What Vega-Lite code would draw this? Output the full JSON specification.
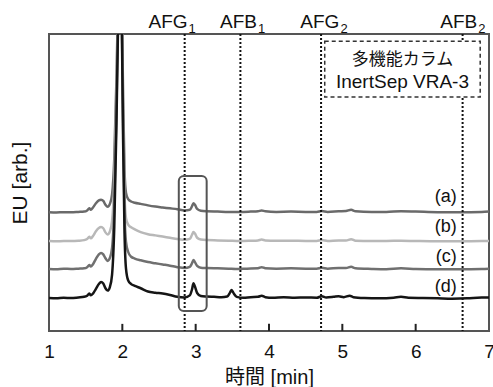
{
  "$schema": "https://vega.github.io/schema/vega-lite/v6.json",
  "width": 440,
  "height": 297,
  "autosize": "none",
  "padding": {"left": 49, "top": 34, "right": 4, "bottom": 56},
  "background": "white",
  "config": {
    "view": {"stroke": "#555", "strokeWidth": 2},
    "font": "Liberation Sans, Noto Sans CJK JP"
  },
  "datasets": {
    "traces": [
      {"trace": "a", "t": 1.00, "eu": 40.0}, {"trace": "a", "t": 1.10, "eu": 39.9}, {"trace": "a", "t": 1.20, "eu": 40.0},
      {"trace": "a", "t": 1.30, "eu": 40.0}, {"trace": "a", "t": 1.40, "eu": 40.1}, {"trace": "a", "t": 1.48, "eu": 40.2},
      {"trace": "a", "t": 1.52, "eu": 40.6}, {"trace": "a", "t": 1.55, "eu": 41.3}, {"trace": "a", "t": 1.57, "eu": 40.8},
      {"trace": "a", "t": 1.60, "eu": 41.6}, {"trace": "a", "t": 1.64, "eu": 43.0}, {"trace": "a", "t": 1.68, "eu": 44.0},
      {"trace": "a", "t": 1.71, "eu": 44.2}, {"trace": "a", "t": 1.74, "eu": 43.8}, {"trace": "a", "t": 1.77, "eu": 42.5},
      {"trace": "a", "t": 1.80, "eu": 41.8}, {"trace": "a", "t": 1.83, "eu": 42.8}, {"trace": "a", "t": 1.86, "eu": 46},
      {"trace": "a", "t": 1.89, "eu": 58}, {"trace": "a", "t": 1.92, "eu": 85}, {"trace": "a", "t": 1.95, "eu": 120},
      {"trace": "a", "t": 1.97, "eu": 130}, {"trace": "a", "t": 1.99, "eu": 115}, {"trace": "a", "t": 2.01, "eu": 80},
      {"trace": "a", "t": 2.03, "eu": 54}, {"trace": "a", "t": 2.05, "eu": 46.5}, {"trace": "a", "t": 2.08, "eu": 44.4},
      {"trace": "a", "t": 2.12, "eu": 43.6}, {"trace": "a", "t": 2.17, "eu": 43.2}, {"trace": "a", "t": 2.25, "eu": 42.8},
      {"trace": "a", "t": 2.35, "eu": 42.3}, {"trace": "a", "t": 2.45, "eu": 41.9}, {"trace": "a", "t": 2.55, "eu": 41.6},
      {"trace": "a", "t": 2.65, "eu": 41.3}, {"trace": "a", "t": 2.75, "eu": 41.0}, {"trace": "a", "t": 2.85, "eu": 40.6},
      {"trace": "a", "t": 2.92, "eu": 40.8}, {"trace": "a", "t": 2.95, "eu": 42.0}, {"trace": "a", "t": 2.97, "eu": 43.0},
      {"trace": "a", "t": 2.99, "eu": 42.5}, {"trace": "a", "t": 3.02, "eu": 41.1}, {"trace": "a", "t": 3.07, "eu": 40.5},
      {"trace": "a", "t": 3.15, "eu": 40.3}, {"trace": "a", "t": 3.30, "eu": 40.2}, {"trace": "a", "t": 3.45, "eu": 40.1},
      {"trace": "a", "t": 3.60, "eu": 40.1}, {"trace": "a", "t": 3.75, "eu": 40.2}, {"trace": "a", "t": 3.85, "eu": 40.3},
      {"trace": "a", "t": 3.90, "eu": 40.6}, {"trace": "a", "t": 3.95, "eu": 40.3}, {"trace": "a", "t": 4.10, "eu": 40.1},
      {"trace": "a", "t": 4.30, "eu": 40.2}, {"trace": "a", "t": 4.50, "eu": 40.1}, {"trace": "a", "t": 4.65, "eu": 40.1},
      {"trace": "a", "t": 4.72, "eu": 40.4}, {"trace": "a", "t": 4.80, "eu": 40.1}, {"trace": "a", "t": 4.95, "eu": 40.3},
      {"trace": "a", "t": 5.05, "eu": 40.4}, {"trace": "a", "t": 5.12, "eu": 40.8}, {"trace": "a", "t": 5.18, "eu": 40.3},
      {"trace": "a", "t": 5.40, "eu": 40.1}, {"trace": "a", "t": 5.60, "eu": 40.1}, {"trace": "a", "t": 5.80, "eu": 40.3},
      {"trace": "a", "t": 6.00, "eu": 40.2}, {"trace": "a", "t": 6.30, "eu": 40.0}, {"trace": "a", "t": 6.60, "eu": 40.0},
      {"trace": "a", "t": 6.90, "eu": 40.1}, {"trace": "a", "t": 7.00, "eu": 40.2},

      {"trace": "b", "t": 1.00, "eu": 30.3}, {"trace": "b", "t": 1.10, "eu": 30.2}, {"trace": "b", "t": 1.20, "eu": 30.3},
      {"trace": "b", "t": 1.30, "eu": 30.3}, {"trace": "b", "t": 1.40, "eu": 30.4}, {"trace": "b", "t": 1.48, "eu": 30.6},
      {"trace": "b", "t": 1.52, "eu": 31.0}, {"trace": "b", "t": 1.55, "eu": 31.7}, {"trace": "b", "t": 1.57, "eu": 31.2},
      {"trace": "b", "t": 1.60, "eu": 32.0}, {"trace": "b", "t": 1.64, "eu": 33.6}, {"trace": "b", "t": 1.68, "eu": 34.7},
      {"trace": "b", "t": 1.71, "eu": 35.0}, {"trace": "b", "t": 1.74, "eu": 34.6}, {"trace": "b", "t": 1.77, "eu": 33.2},
      {"trace": "b", "t": 1.80, "eu": 32.5}, {"trace": "b", "t": 1.83, "eu": 33.5}, {"trace": "b", "t": 1.86, "eu": 37},
      {"trace": "b", "t": 1.89, "eu": 50}, {"trace": "b", "t": 1.92, "eu": 80}, {"trace": "b", "t": 1.95, "eu": 118},
      {"trace": "b", "t": 1.97, "eu": 130}, {"trace": "b", "t": 1.99, "eu": 112}, {"trace": "b", "t": 2.01, "eu": 75},
      {"trace": "b", "t": 2.03, "eu": 46}, {"trace": "b", "t": 2.05, "eu": 38}, {"trace": "b", "t": 2.08, "eu": 35.8},
      {"trace": "b", "t": 2.12, "eu": 34.9}, {"trace": "b", "t": 2.17, "eu": 34.2}, {"trace": "b", "t": 2.25, "eu": 33.3},
      {"trace": "b", "t": 2.35, "eu": 32.6}, {"trace": "b", "t": 2.45, "eu": 32.2}, {"trace": "b", "t": 2.55, "eu": 31.8},
      {"trace": "b", "t": 2.65, "eu": 31.4}, {"trace": "b", "t": 2.75, "eu": 31.0}, {"trace": "b", "t": 2.85, "eu": 30.7},
      {"trace": "b", "t": 2.92, "eu": 31.0}, {"trace": "b", "t": 2.95, "eu": 32.4}, {"trace": "b", "t": 2.97, "eu": 33.3},
      {"trace": "b", "t": 2.99, "eu": 32.8}, {"trace": "b", "t": 3.02, "eu": 31.4}, {"trace": "b", "t": 3.07, "eu": 30.8},
      {"trace": "b", "t": 3.15, "eu": 30.6}, {"trace": "b", "t": 3.30, "eu": 30.5}, {"trace": "b", "t": 3.45, "eu": 30.4},
      {"trace": "b", "t": 3.60, "eu": 30.3}, {"trace": "b", "t": 3.75, "eu": 30.4}, {"trace": "b", "t": 3.85, "eu": 30.5},
      {"trace": "b", "t": 3.90, "eu": 30.8}, {"trace": "b", "t": 3.95, "eu": 30.5}, {"trace": "b", "t": 4.10, "eu": 30.4},
      {"trace": "b", "t": 4.30, "eu": 30.4}, {"trace": "b", "t": 4.50, "eu": 30.3}, {"trace": "b", "t": 4.65, "eu": 30.3},
      {"trace": "b", "t": 4.72, "eu": 30.6}, {"trace": "b", "t": 4.80, "eu": 30.3}, {"trace": "b", "t": 4.95, "eu": 30.5},
      {"trace": "b", "t": 5.05, "eu": 30.5}, {"trace": "b", "t": 5.12, "eu": 30.9}, {"trace": "b", "t": 5.18, "eu": 30.4},
      {"trace": "b", "t": 5.40, "eu": 30.3}, {"trace": "b", "t": 5.60, "eu": 30.3}, {"trace": "b", "t": 5.80, "eu": 30.4},
      {"trace": "b", "t": 6.00, "eu": 30.3}, {"trace": "b", "t": 6.30, "eu": 30.2}, {"trace": "b", "t": 6.60, "eu": 30.2},
      {"trace": "b", "t": 6.90, "eu": 30.3}, {"trace": "b", "t": 7.00, "eu": 30.3},

      {"trace": "c", "t": 1.00, "eu": 20.9}, {"trace": "c", "t": 1.10, "eu": 20.8}, {"trace": "c", "t": 1.20, "eu": 21.0},
      {"trace": "c", "t": 1.30, "eu": 20.9}, {"trace": "c", "t": 1.40, "eu": 21.0}, {"trace": "c", "t": 1.48, "eu": 21.1},
      {"trace": "c", "t": 1.52, "eu": 21.5}, {"trace": "c", "t": 1.55, "eu": 22.2}, {"trace": "c", "t": 1.57, "eu": 21.7},
      {"trace": "c", "t": 1.60, "eu": 22.5}, {"trace": "c", "t": 1.64, "eu": 24.3}, {"trace": "c", "t": 1.68, "eu": 25.8},
      {"trace": "c", "t": 1.71, "eu": 26.3}, {"trace": "c", "t": 1.74, "eu": 25.8}, {"trace": "c", "t": 1.77, "eu": 24.5},
      {"trace": "c", "t": 1.80, "eu": 23.6}, {"trace": "c", "t": 1.83, "eu": 24.6}, {"trace": "c", "t": 1.86, "eu": 28},
      {"trace": "c", "t": 1.89, "eu": 42}, {"trace": "c", "t": 1.92, "eu": 75}, {"trace": "c", "t": 1.95, "eu": 115},
      {"trace": "c", "t": 1.97, "eu": 130}, {"trace": "c", "t": 1.99, "eu": 112}, {"trace": "c", "t": 2.01, "eu": 70},
      {"trace": "c", "t": 2.03, "eu": 40}, {"trace": "c", "t": 2.05, "eu": 30}, {"trace": "c", "t": 2.08, "eu": 26.6},
      {"trace": "c", "t": 2.12, "eu": 25.0}, {"trace": "c", "t": 2.17, "eu": 24.4}, {"trace": "c", "t": 2.25, "eu": 23.8},
      {"trace": "c", "t": 2.35, "eu": 23.2}, {"trace": "c", "t": 2.45, "eu": 22.8}, {"trace": "c", "t": 2.55, "eu": 22.4},
      {"trace": "c", "t": 2.65, "eu": 22.0}, {"trace": "c", "t": 2.75, "eu": 21.5}, {"trace": "c", "t": 2.85, "eu": 21.2},
      {"trace": "c", "t": 2.92, "eu": 21.6}, {"trace": "c", "t": 2.95, "eu": 22.8}, {"trace": "c", "t": 2.97, "eu": 23.9},
      {"trace": "c", "t": 2.99, "eu": 23.2}, {"trace": "c", "t": 3.02, "eu": 21.9}, {"trace": "c", "t": 3.07, "eu": 21.3},
      {"trace": "c", "t": 3.15, "eu": 21.2}, {"trace": "c", "t": 3.30, "eu": 21.1}, {"trace": "c", "t": 3.45, "eu": 21.0},
      {"trace": "c", "t": 3.55, "eu": 20.9}, {"trace": "c", "t": 3.70, "eu": 21.0}, {"trace": "c", "t": 3.85, "eu": 21.1},
      {"trace": "c", "t": 3.90, "eu": 21.5}, {"trace": "c", "t": 3.95, "eu": 21.1}, {"trace": "c", "t": 4.10, "eu": 21.0},
      {"trace": "c", "t": 4.30, "eu": 21.1}, {"trace": "c", "t": 4.50, "eu": 21.0}, {"trace": "c", "t": 4.65, "eu": 21.0},
      {"trace": "c", "t": 4.72, "eu": 21.3}, {"trace": "c", "t": 4.80, "eu": 21.0}, {"trace": "c", "t": 4.95, "eu": 21.2},
      {"trace": "c", "t": 5.05, "eu": 21.2}, {"trace": "c", "t": 5.12, "eu": 21.6}, {"trace": "c", "t": 5.18, "eu": 21.1},
      {"trace": "c", "t": 5.40, "eu": 20.9}, {"trace": "c", "t": 5.60, "eu": 20.8}, {"trace": "c", "t": 5.80, "eu": 21.1},
      {"trace": "c", "t": 6.00, "eu": 20.9}, {"trace": "c", "t": 6.30, "eu": 20.8}, {"trace": "c", "t": 6.60, "eu": 20.8},
      {"trace": "c", "t": 6.90, "eu": 20.9}, {"trace": "c", "t": 7.00, "eu": 21.0},

      {"trace": "d", "t": 1.00, "eu": 11.1}, {"trace": "d", "t": 1.10, "eu": 11.0}, {"trace": "d", "t": 1.20, "eu": 11.2},
      {"trace": "d", "t": 1.30, "eu": 11.1}, {"trace": "d", "t": 1.40, "eu": 11.3}, {"trace": "d", "t": 1.48, "eu": 11.5},
      {"trace": "d", "t": 1.52, "eu": 11.9}, {"trace": "d", "t": 1.55, "eu": 12.6}, {"trace": "d", "t": 1.57, "eu": 12.0},
      {"trace": "d", "t": 1.60, "eu": 12.6}, {"trace": "d", "t": 1.64, "eu": 14.2}, {"trace": "d", "t": 1.68, "eu": 15.8},
      {"trace": "d", "t": 1.71, "eu": 16.5}, {"trace": "d", "t": 1.74, "eu": 16.0}, {"trace": "d", "t": 1.77, "eu": 14.4},
      {"trace": "d", "t": 1.80, "eu": 13.6}, {"trace": "d", "t": 1.83, "eu": 14.8}, {"trace": "d", "t": 1.86, "eu": 19},
      {"trace": "d", "t": 1.89, "eu": 35}, {"trace": "d", "t": 1.92, "eu": 70}, {"trace": "d", "t": 1.95, "eu": 115},
      {"trace": "d", "t": 1.97, "eu": 130}, {"trace": "d", "t": 1.99, "eu": 110}, {"trace": "d", "t": 2.01, "eu": 65},
      {"trace": "d", "t": 2.03, "eu": 33}, {"trace": "d", "t": 2.05, "eu": 21}, {"trace": "d", "t": 2.08, "eu": 17.0},
      {"trace": "d", "t": 2.12, "eu": 15.8}, {"trace": "d", "t": 2.17, "eu": 15.2}, {"trace": "d", "t": 2.25, "eu": 14.4},
      {"trace": "d", "t": 2.35, "eu": 13.3}, {"trace": "d", "t": 2.45, "eu": 12.9}, {"trace": "d", "t": 2.55, "eu": 12.6},
      {"trace": "d", "t": 2.65, "eu": 12.1}, {"trace": "d", "t": 2.75, "eu": 11.5}, {"trace": "d", "t": 2.85, "eu": 11.3},
      {"trace": "d", "t": 2.92, "eu": 12.0}, {"trace": "d", "t": 2.95, "eu": 14.0}, {"trace": "d", "t": 2.97, "eu": 16.1},
      {"trace": "d", "t": 2.99, "eu": 15.0}, {"trace": "d", "t": 3.02, "eu": 12.8}, {"trace": "d", "t": 3.07, "eu": 11.8},
      {"trace": "d", "t": 3.15, "eu": 11.6}, {"trace": "d", "t": 3.25, "eu": 11.5}, {"trace": "d", "t": 3.35, "eu": 11.4},
      {"trace": "d", "t": 3.43, "eu": 11.6}, {"trace": "d", "t": 3.47, "eu": 13.0}, {"trace": "d", "t": 3.49, "eu": 13.8},
      {"trace": "d", "t": 3.52, "eu": 12.6}, {"trace": "d", "t": 3.56, "eu": 11.5}, {"trace": "d", "t": 3.65, "eu": 11.2},
      {"trace": "d", "t": 3.75, "eu": 11.4}, {"trace": "d", "t": 3.85, "eu": 11.5}, {"trace": "d", "t": 3.90, "eu": 11.9},
      {"trace": "d", "t": 3.95, "eu": 11.4}, {"trace": "d", "t": 4.05, "eu": 11.2}, {"trace": "d", "t": 4.20, "eu": 11.4},
      {"trace": "d", "t": 4.35, "eu": 11.2}, {"trace": "d", "t": 4.50, "eu": 11.3}, {"trace": "d", "t": 4.65, "eu": 11.2},
      {"trace": "d", "t": 4.72, "eu": 11.7}, {"trace": "d", "t": 4.78, "eu": 11.3}, {"trace": "d", "t": 4.88, "eu": 11.5},
      {"trace": "d", "t": 4.95, "eu": 11.7}, {"trace": "d", "t": 5.02, "eu": 11.4}, {"trace": "d", "t": 5.10, "eu": 11.9},
      {"trace": "d", "t": 5.15, "eu": 11.4}, {"trace": "d", "t": 5.30, "eu": 11.1}, {"trace": "d", "t": 5.50, "eu": 11.0},
      {"trace": "d", "t": 5.70, "eu": 11.2}, {"trace": "d", "t": 5.80, "eu": 11.5}, {"trace": "d", "t": 5.90, "eu": 11.2},
      {"trace": "d", "t": 6.10, "eu": 11.1}, {"trace": "d", "t": 6.30, "eu": 11.0}, {"trace": "d", "t": 6.50, "eu": 10.9},
      {"trace": "d", "t": 6.70, "eu": 11.0}, {"trace": "d", "t": 6.90, "eu": 11.3}, {"trace": "d", "t": 7.00, "eu": 11.3}
    ],
    "markers": [
      {"name": "AFG", "sub": "1", "t": 2.85, "anchor": 2.889},
      {"name": "AFB", "sub": "1", "t": 3.61, "anchor": 3.837},
      {"name": "AFG", "sub": "2", "t": 4.71, "anchor": 4.96},
      {"name": "AFB", "sub": "2", "t": 6.64, "anchor": 6.84}
    ],
    "tickMarks": [
      {"t": 2, "eu": 0, "eu2": 2.4}, {"t": 3, "eu": 0, "eu2": 2.4}, {"t": 4, "eu": 0, "eu2": 2.4},
      {"t": 5, "eu": 0, "eu2": 2.4}, {"t": 6, "eu": 0, "eu2": 2.4}
    ],
    "traceLabels": [
      {"label": "(a)", "t": 6.56, "eu": 45.0},
      {"label": "(b)", "t": 6.56, "eu": 34.9},
      {"label": "(c)", "t": 6.56, "eu": 24.8},
      {"label": "(d)", "t": 6.56, "eu": 14.7}
    ],
    "highlight": [{"t": 2.77, "t2": 3.15, "eu": 6.7, "eu2": 52.2}],
    "infoBox": [{"t": 4.76, "t2": 6.88, "eu": 78.8, "eu2": 97.6}],
    "infoText": [
      {"text": "多機能カラム", "t": 5.82, "eu": 91.2, "font": "Noto Sans CJK JP", "size": 17},
      {"text": "InertSep VRA-3", "t": 5.82, "eu": 83.8, "font": "Liberation Sans", "size": 19}
    ]
  },
  "layer": [
    {
      "data": {"name": "traces"},
      "mark": {"type": "line", "clip": true, "strokeWidth": 2.5, "interpolate": "monotone"},
      "encoding": {
        "x": {
          "field": "t", "type": "quantitative",
          "scale": {"domain": [1, 7], "nice": false, "zero": false},
          "axis": {
            "title": "時間 [min]",
            "values": [1, 2, 3, 4, 5, 6, 7], "format": "d", "grid": false, "domain": false,
            "ticks": false,
            "labelFlush": false, "labelPadding": 11, "labelFontSize": 19, "labelColor": "#111",
            "labelFont": "Liberation Sans", "labelOverlap": false,
            "titleFont": "Liberation Sans, Noto Sans CJK JP", "titleFontSize": 20,
            "titleFontWeight": "normal", "titleColor": "#111", "titlePadding": 6
          }
        },
        "y": {
          "field": "eu", "type": "quantitative",
          "scale": {"domain": [0, 100], "nice": false, "zero": false},
          "axis": {
            "title": "EU [arb.]",
            "labels": false, "ticks": false, "domain": false, "grid": false,
            "titleFont": "Liberation Sans", "titleFontSize": 21,
            "titleFontWeight": "normal", "titleColor": "#111", "titlePadding": 19
          }
        },
        "color": {
          "field": "trace", "type": "nominal",
          "scale": {"domain": ["a", "b", "c", "d"], "range": ["#6a6a6a", "#b8b8b8", "#707070", "#151515"]},
          "legend": null
        }
      }
    },
    {
      "data": {"name": "tickMarks"},
      "mark": {"type": "rule", "color": "#222", "strokeWidth": 2},
      "encoding": {
        "x": {"field": "t", "type": "quantitative", "scale": {"domain": [1, 7], "nice": false, "zero": false}, "axis": {"title": "時間 [min]"}},
        "y": {"field": "eu", "type": "quantitative", "scale": {"domain": [0, 100], "nice": false, "zero": false}, "axis": {"title": "EU [arb.]"}},
        "y2": {"field": "eu2"}
      }
    },
    {
      "data": {"name": "markers"},
      "mark": {"type": "rule", "color": "#111", "strokeWidth": 2, "strokeDash": [2, 2]},
      "encoding": {
        "x": {"field": "t", "type": "quantitative", "scale": {"domain": [1, 7], "nice": false, "zero": false}, "axis": {"title": "時間 [min]"}}
      }
    },
    {
      "data": {"name": "highlight"},
      "mark": {"type": "rect", "fillOpacity": 0, "stroke": "#555", "strokeWidth": 2, "cornerRadius": 5},
      "encoding": {
        "x": {"field": "t", "type": "quantitative", "scale": {"domain": [1, 7], "nice": false, "zero": false}, "axis": {"title": "時間 [min]"}},
        "x2": {"field": "t2"},
        "y": {"field": "eu", "type": "quantitative", "scale": {"domain": [0, 100], "nice": false, "zero": false}, "axis": {"title": "EU [arb.]"}},
        "y2": {"field": "eu2"}
      }
    },
    {
      "data": {"name": "infoBox"},
      "mark": {"type": "rect", "fill": "white", "stroke": "#333", "strokeWidth": 1.5, "strokeDash": [4, 3]},
      "encoding": {
        "x": {"field": "t", "type": "quantitative", "scale": {"domain": [1, 7], "nice": false, "zero": false}, "axis": {"title": "時間 [min]"}},
        "x2": {"field": "t2"},
        "y": {"field": "eu", "type": "quantitative", "scale": {"domain": [0, 100], "nice": false, "zero": false}, "axis": {"title": "EU [arb.]"}},
        "y2": {"field": "eu2"}
      }
    },
    {
      "data": {"name": "infoText"},
      "mark": {"type": "text", "align": "center", "baseline": "middle", "color": "#111"},
      "encoding": {
        "x": {"field": "t", "type": "quantitative", "scale": {"domain": [1, 7], "nice": false, "zero": false}, "axis": {"title": "時間 [min]"}},
        "y": {"field": "eu", "type": "quantitative", "scale": {"domain": [0, 100], "nice": false, "zero": false}, "axis": {"title": "EU [arb.]"}},
        "text": {"field": "text"},
        "font": {"field": "font"},
        "size": {"field": "size", "type": "quantitative", "scale": null}
      }
    },
    {
      "data": {"name": "traceLabels"},
      "mark": {"type": "text", "align": "right", "baseline": "middle", "fontSize": 18, "color": "#111", "font": "Liberation Sans"},
      "encoding": {
        "x": {"field": "t", "type": "quantitative", "scale": {"domain": [1, 7], "nice": false, "zero": false}, "axis": {"title": "時間 [min]"}},
        "y": {"field": "eu", "type": "quantitative", "scale": {"domain": [0, 100], "nice": false, "zero": false}, "axis": {"title": "EU [arb.]"}},
        "text": {"field": "label"}
      }
    },
    {
      "data": {"name": "markers"},
      "mark": {"type": "text", "align": "right", "baseline": "alphabetic", "fontSize": 19, "color": "#111", "font": "Liberation Sans", "clip": false},
      "encoding": {
        "x": {"field": "anchor", "type": "quantitative", "scale": {"domain": [1, 7], "nice": false, "zero": false}, "axis": {"title": "時間 [min]"}},
        "y": {"datum": 102, "type": "quantitative", "scale": {"domain": [0, 100], "nice": false, "zero": false}, "axis": {"title": "EU [arb.]"}},
        "text": {"field": "name"}
      }
    },
    {
      "data": {"name": "markers"},
      "mark": {"type": "text", "align": "left", "baseline": "alphabetic", "fontSize": 13, "dx": 1, "dy": 5, "color": "#111", "font": "Liberation Sans", "clip": false},
      "encoding": {
        "x": {"field": "anchor", "type": "quantitative", "scale": {"domain": [1, 7], "nice": false, "zero": false}, "axis": {"title": "時間 [min]"}},
        "y": {"datum": 102, "type": "quantitative", "scale": {"domain": [0, 100], "nice": false, "zero": false}, "axis": {"title": "EU [arb.]"}},
        "text": {"field": "sub"}
      }
    }
  ]
}
